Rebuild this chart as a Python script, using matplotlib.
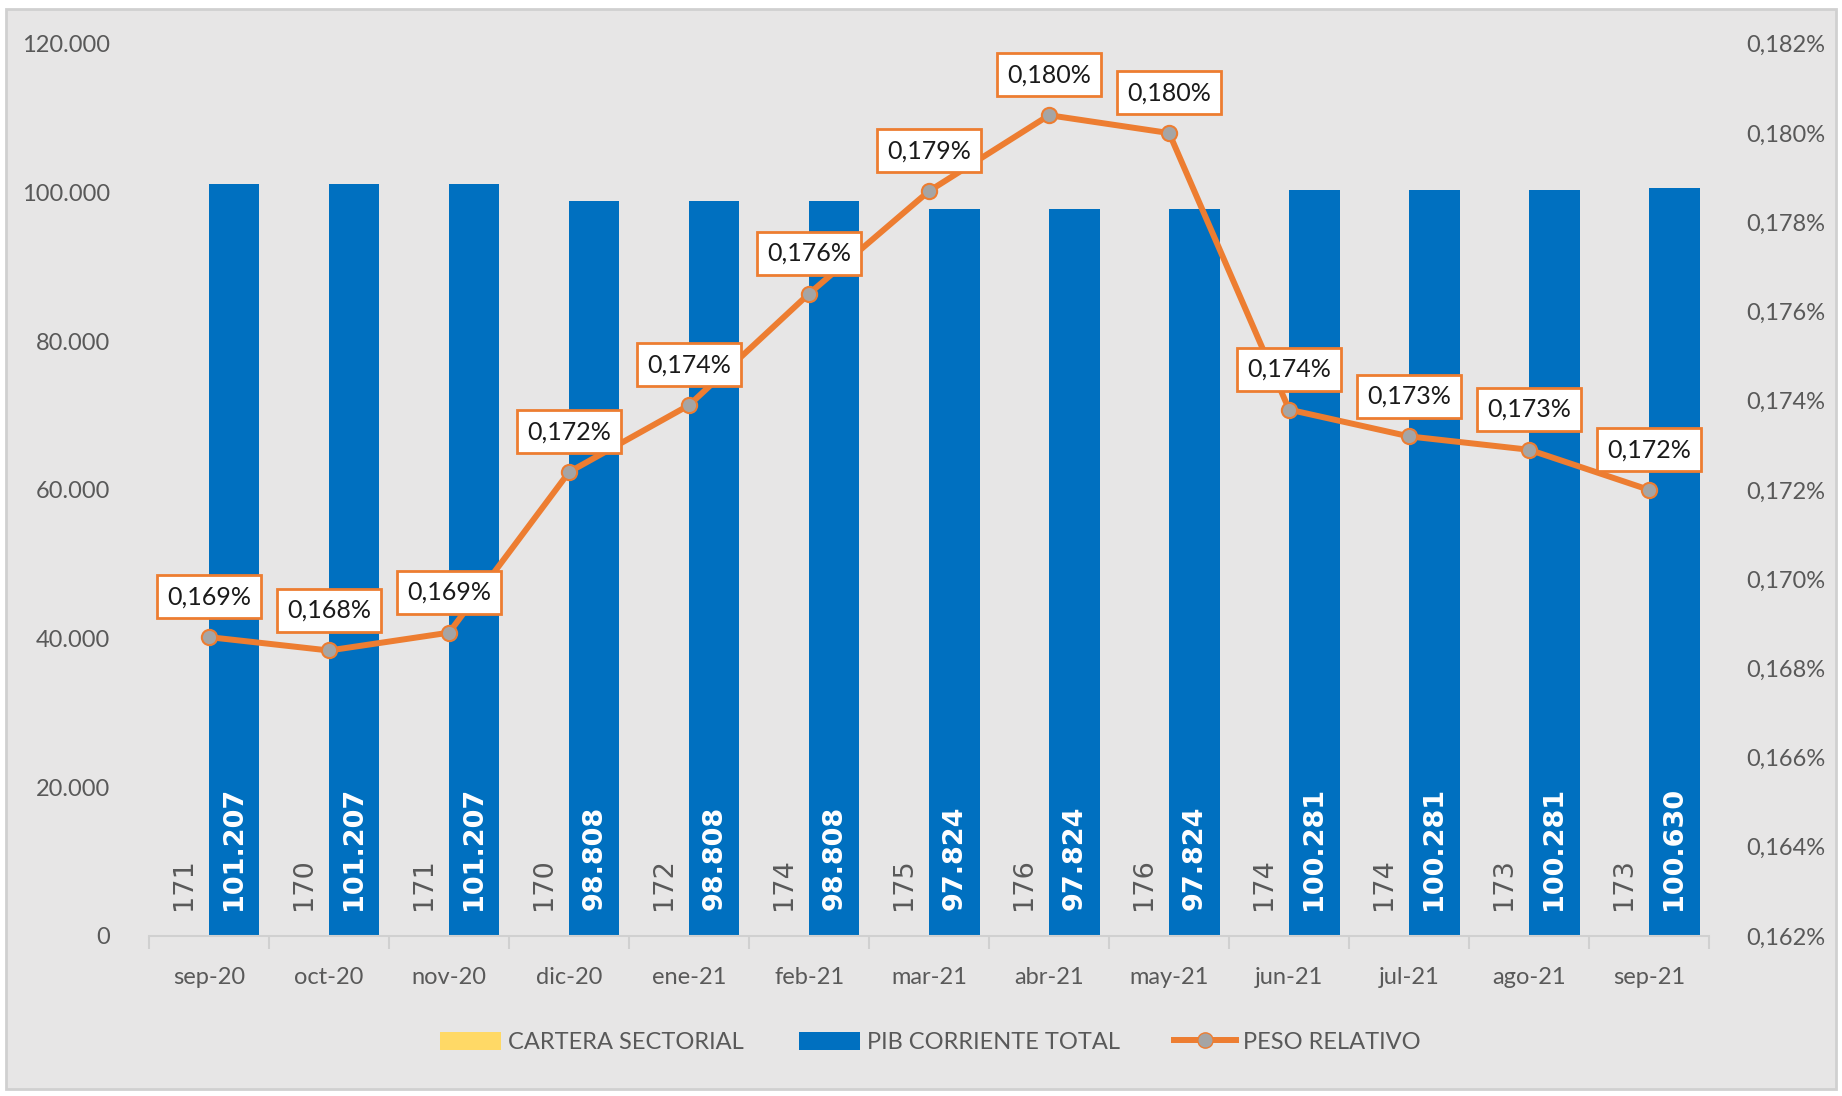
import numpy as np
import matplotlib.pyplot as plt
from matplotlib.patches import Patch, Rectangle
from matplotlib.lines import Line2D
import matplotlib.ticker as ticker

# data
meses = ['sep-20', 'oct-20', 'nov-20', 'dic-20', 'ene-21', 'feb-21', 'mar-21',
         'abr-21', 'may-21', 'jun-21', 'jul-21', 'ago-21', 'sep-21']
cartera = [171, 170, 171, 170, 172, 174, 175, 176, 176, 174, 174, 173, 173]
pib = [101207, 101207, 101207, 98808, 98808, 98808, 97824,
       97824, 97824, 100281, 100281, 100281, 100630]
peso = [0.1687, 0.1684, 0.1688, 0.1724, 0.1739, 0.1764, 0.1787,
        0.1804, 0.1800, 0.1738, 0.1732, 0.1729, 0.1720]  # in %

BG = '#e7e6e6'
BLUE = '#0070c0'
YELLOW = '#ffd966'
ORANGE = '#ed7d31'
GREY_TXT = '#595959'
FONT = 'Lato'

plt.rcParams['font.family'] = FONT

fig = plt.figure(figsize=(18.42, 10.96), dpi=100)
fig.patch.set_facecolor('white')
fig.patches.append(Rectangle((0.003, 0.006), 0.994, 0.986, transform=fig.transFigure,
                             facecolor=BG, edgecolor='#d0d0d0', linewidth=2, zorder=-1))

ax = fig.add_axes([0.0809, 0.146, 0.8470, 0.814])
ax.set_facecolor('none')
ax2 = ax.twinx()

x = np.arange(len(meses))
w = 0.42
ax.bar(x - w / 2, cartera, w, color=YELLOW, zorder=2)
ax.bar(x + w / 2, pib, w, color=BLUE, zorder=2)

for i in range(len(meses)):
    ax.annotate('{:d}'.format(cartera[i]), (x[i] - w / 2, 0), xytext=(0, 19),
                textcoords='offset points', rotation=90, ha='center', va='bottom',
                fontsize=19.5, color=GREY_TXT, family='DejaVu Sans', zorder=3)
    ax.annotate('{:,d}'.format(pib[i]).replace(',', '.'), (x[i] + w / 2, 0), xytext=(0, 19),
                textcoords='offset points', rotation=90, ha='center', va='bottom',
                fontsize=19.5, color='white', fontweight='bold', family='DejaVu Sans', zorder=3)

ax.set_xlim(-0.5, len(meses) - 0.5)
ax.set_ylim(0, 120000)
ax.set_yticks(np.arange(0, 120001, 20000))
ax.yaxis.set_major_formatter(ticker.FuncFormatter(lambda v, p: '{:,.0f}'.format(v).replace(',', '.')))
ax.set_xticks(x)
ax.set_xticklabels(meses)
ax.set_xticks(np.arange(-0.5, len(meses), 1), minor=True)
ax.tick_params(axis='x', which='major', length=0, pad=22, labelsize=17, labelcolor=GREY_TXT)
ax.tick_params(axis='x', which='minor', length=9, color='#d0d0d0', width=1.5)
ax.tick_params(axis='y', length=0, pad=28, labelsize=17, labelcolor=GREY_TXT)

# line on secondary axis
ax2.plot(x, peso, color=ORANGE, linewidth=4.3, marker='o', markersize=11,
         markerfacecolor='#a5a5a5', markeredgecolor=ORANGE, markeredgewidth=1.5, zorder=4)
for i in range(len(meses)):
    ax2.annotate('{:.3f}%'.format(peso[i]).replace('.', ','), (x[i], peso[i]), xytext=(0, 29),
                 textcoords='offset points', ha='center', va='center', fontsize=18,
                 color='#1a1a1a', zorder=5,
                 bbox=dict(boxstyle='square,pad=0.4', facecolor='white', edgecolor=ORANGE,
                           linewidth=2))
ax2.set_ylim(0.162, 0.182)
ax2.set_yticks(np.arange(0.162, 0.1821, 0.002))
ax2.yaxis.set_major_formatter(ticker.FuncFormatter(lambda v, p: '{:.3f}%'.format(v).replace('.', ',')))
ax2.tick_params(axis='y', length=0, pad=27, labelsize=17, labelcolor=GREY_TXT)

for a in (ax, ax2):
    for s in ('top', 'left', 'right'):
        a.spines[s].set_visible(False)
    a.spines['bottom'].set_color('#d0d0d0')
    a.spines['bottom'].set_linewidth(1.5)
ax2.spines['bottom'].set_visible(False)

handles = [Patch(facecolor=YELLOW), Patch(facecolor=BLUE),
           Line2D([0], [0], color=ORANGE, linewidth=4.3, marker='o', markersize=11,
                  markerfacecolor='#a5a5a5', markeredgecolor=ORANGE)]
fig.legend(handles, ['CARTERA SECTORIAL', 'PIB CORRIENTE TOTAL', 'PESO RELATIVO'],
           loc='center', bbox_to_anchor=(0.505, 0.049), ncol=3, frameon=False,
           fontsize=17, labelcolor=GREY_TXT, handlelength=2.6, handleheight=0.85,
           handletextpad=0.3, columnspacing=2.3)

fig.savefig('out.png', dpi=100, facecolor=fig.get_facecolor())
